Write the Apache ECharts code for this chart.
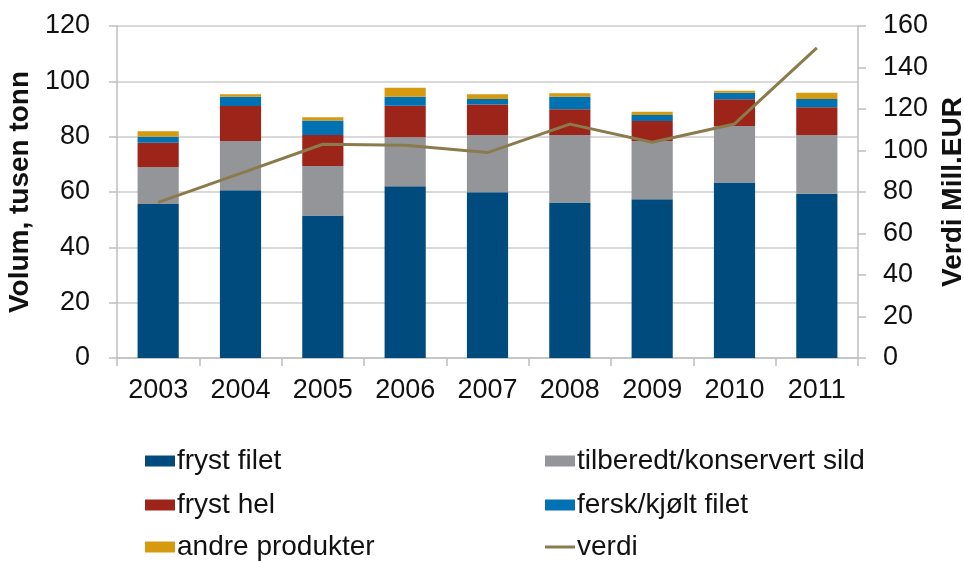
<!DOCTYPE html>
<html>
<head>
<meta charset="utf-8">
<title>Sild eksport</title>
<script src="https://cdn.jsdelivr.net/npm/echarts@6/dist/echarts.min.js"></script>
<style>
  html, body { margin: 0; padding: 0; background: #fff; }
  #chart { width: 964px; height: 561px; }
</style>
</head>
<body>
<div id="chart"></div>
<script>
// kategorier (år)
const years = ['2003', '2004', '2005', '2006', '2007', '2008', '2009', '2010', '2011']
// volum, tusen tonn (stablet)
const frystFilet = [55.7, 60.6, 51.5, 62.1, 59.9, 56.2, 57.4, 63.4, 59.4]
const tilberedt = [13.3, 17.8, 17.9, 17.7, 20.7, 24.4, 21.0, 20.5, 21.2]
const frystHel = [8.8, 12.7, 11.2, 11.4, 11.0, 9.3, 7.3, 9.6, 10.0]
const ferskFilet = [2.2, 3.3, 5.2, 3.2, 2.0, 4.5, 2.1, 2.4, 3.0]
const andre = [2.0, 0.9, 1.2, 3.3, 1.7, 1.3, 1.2, 0.7, 2.3]
// verdi, mill. EUR
const verdi = [75, 89, 103, 102.5, 99, 112.7, 104, 112.8, 149.5]

const font = '"Liberation Sans", Arial, sans-serif'
const lineColor = '#8b7b4c'

function barSeries(name, data, color) {
  return {
    name: name,
    type: 'bar',
    stack: 'volum',
    barWidth: '50%',
    yAxisIndex: 0,
    itemStyle: { color: color },
    data: data
  }
}

// en legend per rute (2 kolonner x 3 rader)
function legendItem(left, top, item) {
  return {
    left: left,
    top: top,
    padding: 0,
    itemWidth: 30,
    itemHeight: 11,
    icon: 'rect',
    textStyle: { fontSize: 28, color: '#111', fontFamily: font, padding: [0, 0, 0, -3] },
    data: [item]
  }
}

let myChart = echarts.init(document.getElementById('chart'))
myChart.setOption({
  animation: false,
  textStyle: { fontFamily: font },
  grid: { left: 117, right: 106, top: 26, bottom: 203, outerBoundsMode: 'none' },
  legend: [
    legendItem(145, 447, 'fryst filet'),
    legendItem(145, 491, 'fryst hel'),
    legendItem(145, 533, 'andre produkter'),
    legendItem(545, 447, 'tilberedt/konservert sild'),
    legendItem(545, 491, 'fersk/kjølt filet'),
    legendItem(545, 533, { name: 'verdi', icon: 'path://M0,0H30V3H0Z', itemStyle: { color: lineColor } })
  ],
  xAxis: {
    type: 'category',
    data: years,
    axisLine: { lineStyle: { color: '#bfbfbf', width: 1.5 } },
    axisTick: { show: true, length: 8, lineStyle: { color: '#bfbfbf', width: 1.5 } },
    axisLabel: { color: '#111', fontSize: 27, margin: 19 }
  },
  yAxis: [{
    type: 'value',
    min: 0,
    max: 120,
    interval: 20,
    name: 'Volum, tusen tonn',
    nameLocation: 'middle',
    nameRotate: 90,
    nameGap: 80,
    nameTextStyle: { fontSize: 28, fontWeight: 'bold', color: '#111' },
    axisLine: { show: true, lineStyle: { color: '#bfbfbf', width: 1.5 } },
    axisTick: { show: true, length: 8, lineStyle: { color: '#bfbfbf', width: 1.5 } },
    axisLabel: { color: '#111', fontSize: 27, margin: 27 },
    splitLine: { show: true, lineStyle: { color: '#d9d9d9', width: 2 } }
  }, {
    type: 'value',
    min: 0,
    max: 160,
    interval: 20,
    position: 'right',
    name: 'Verdi Mill.EUR',
    nameLocation: 'middle',
    nameRotate: 90,
    nameGap: 72,
    nameTextStyle: { fontSize: 28, fontWeight: 'bold', color: '#111' },
    axisLine: { show: true, lineStyle: { color: '#bfbfbf', width: 1.5 } },
    axisTick: { show: true, length: 8, lineStyle: { color: '#bfbfbf', width: 1.5 } },
    axisLabel: { color: '#111', fontSize: 27, margin: 25 },
    splitLine: { show: false }
  }],
  series: [
    barSeries('fryst filet', frystFilet, '#004b7d'),
    barSeries('tilberedt/konservert sild', tilberedt, '#939598'),
    barSeries('fryst hel', frystHel, '#9c2418'),
    barSeries('fersk/kjølt filet', ferskFilet, '#0071b2'),
    barSeries('andre produkter', andre, '#d59a10'),
    {
      name: 'verdi',
      type: 'line',
      yAxisIndex: 1,
      symbol: 'none',
      z: 5,
      lineStyle: { color: lineColor, width: 3 },
      itemStyle: { color: lineColor },
      data: verdi
    }
  ]
})
</script>
</body>
</html>
